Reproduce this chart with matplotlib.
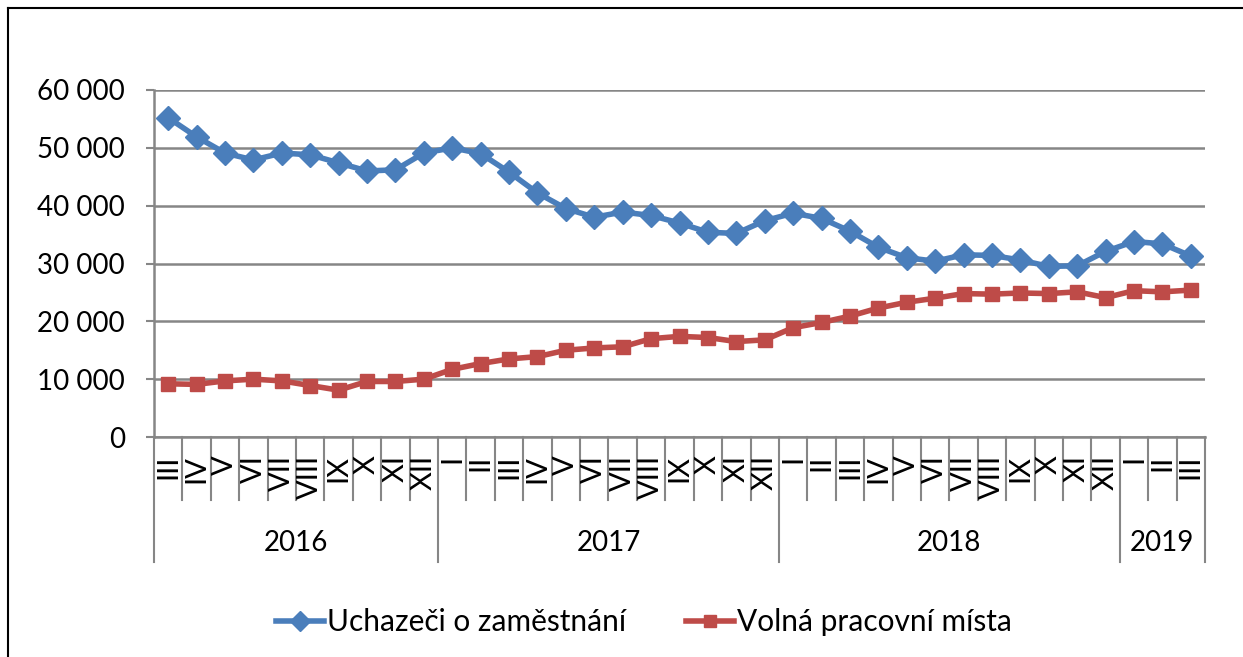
import matplotlib
matplotlib.use("Agg")
import matplotlib.pyplot as plt
import matplotlib.transforms as mtransforms
from matplotlib.lines import Line2D

plt.rcParams['font.family'] = ['Lato', 'DejaVu Sans']

# data (monthly, III/2016 .. III/2019)
years = ["2016", "2017", "2018", "2019"]
months_per_year = [10, 12, 12, 3]
month_labels = (["III", "IV", "V", "VI", "VII", "VIII", "IX", "X", "XI", "XII"]
                + ["I", "II", "III", "IV", "V", "VI", "VII", "VIII", "IX", "X", "XI", "XII"] * 2
                + ["I", "II", "III"])

uchazeci = [55200, 51900, 49100, 47900, 49100, 48800, 47400, 46000, 46200, 49100,
            50000, 49000, 45800, 42200, 39500, 38000, 38900, 38300, 37000, 35400, 35200, 37400,
            38700, 37800, 35600, 32800, 31000, 30400, 31500, 31400, 30600, 29500, 29600, 32100,
            33800, 33400, 31300]
volna_mista = [9200, 9100, 9700, 10000, 9700, 8900, 8100, 9600, 9600, 10000,
               11700, 12700, 13500, 13900, 15000, 15400, 15600, 17000, 17400, 17200, 16500, 16800,
               18900, 19800, 20900, 22300, 23300, 24000, 24800, 24700, 24900, 24800, 25100, 24100,
               25300, 25100, 25400]

blue = "#4a7ebb"
red = "#be4b48"
gray = "#868686"
fs = 20

W, H = 1243, 657
fig = plt.figure(figsize=(W / 100, H / 100), dpi=100)
ax = fig.add_axes([154 / W, 1 - 437 / H, (1205 - 154) / W, (437 - 90) / H])

x = list(range(len(month_labels)))
ax.plot(x, uchazeci, color=blue, lw=4, marker="D", markersize=12.5,
        label="Uchazeči o zaměstnání")
ax.plot(x, volna_mista, color=red, lw=4, marker="s", markersize=10.5,
        label="Volná pracovní místa")

ax.set_xlim(-0.5, len(x) - 0.5)
ax.set_ylim(0, 60000)
ax.set_yticks(range(0, 60001, 10000))
ax.set_yticklabels([f"{v:,}".replace(",", " ") for v in range(0, 60001, 10000)], fontsize=fs)
ax.tick_params(axis="y", length=6, width=1.5, color=gray, pad=15)
ax.set_xticks([])
ax.grid(axis="y", color=gray, lw=1.8)
ax.set_axisbelow(True)
for s in ["top", "right"]:
    ax.spines[s].set_visible(False)
for s in ["left", "bottom"]:
    ax.spines[s].set_color(gray)
    ax.spines[s].set_linewidth(1.8)

# category axis: month row and year row
trans = mtransforms.blended_transform_factory(ax.transData, ax.transAxes)
ah = (437 - 90)
month_bottom = -(500 - 437) / ah
year_bottom = -(562 - 437) / ah
for i, lab in enumerate(month_labels):
    ax.text(i, -(455 - 437) / ah, lab, transform=trans, rotation=90,
            ha="center", va="top", fontsize=fs + 1)

boundaries = [-0.5]
for n in months_per_year:
    boundaries.append(boundaries[-1] + n)
for k in range(len(x) + 1):
    b = k - 0.5
    bottom = year_bottom if b in boundaries else month_bottom
    ax.plot([b, b], [0, bottom], transform=trans, color=gray, lw=1.5, clip_on=False)
for yr, a, b in zip(years, boundaries[:-1], boundaries[1:]):
    ax.text((a + b) / 2, -(543 - 437) / ah, yr, transform=trans,
            ha="center", va="center", fontsize=fs)

# legend
fig.legend(loc="center", bbox_to_anchor=(0.518, 1 - 622 / H), ncol=2, frameon=False,
           fontsize=fs + 1.5, handlelength=1.6, handletextpad=0.1, columnspacing=2.0,
           markerscale=0.85)

# chart frame
fig.add_artist(Line2D([8 / W, 1], [1 - 8 / H, 1 - 8 / H], color="black", lw=1.5))
fig.add_artist(Line2D([8 / W, 8 / W], [0, 1 - 8 / H], color="black", lw=1.5))

fig.savefig("out.png", dpi=100)
